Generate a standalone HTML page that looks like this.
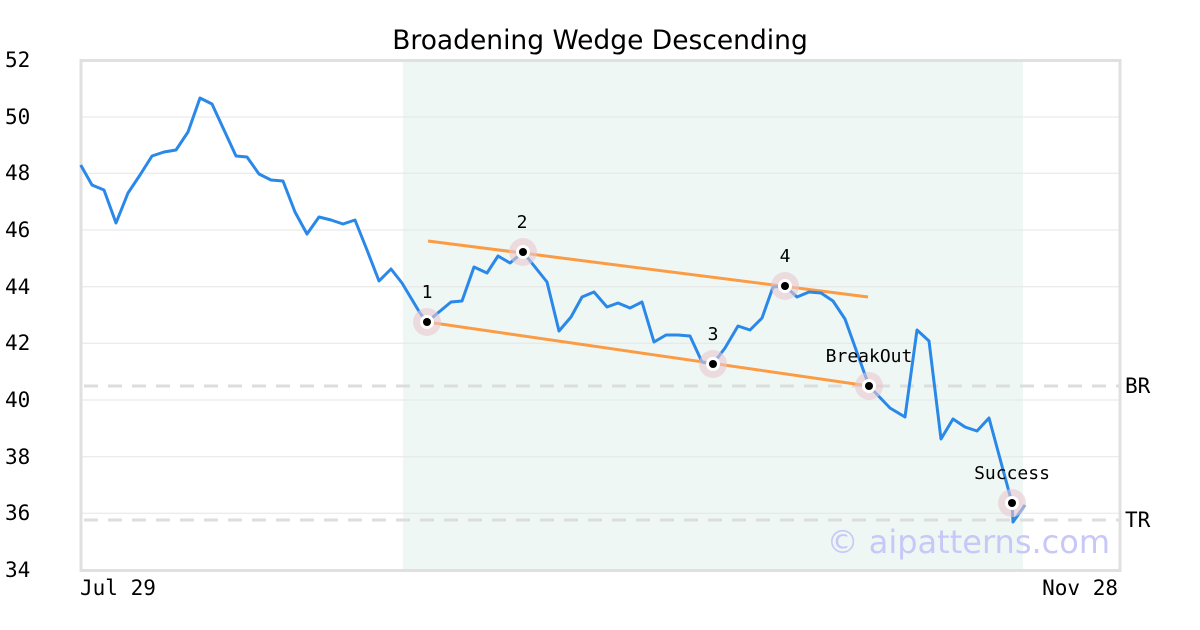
<!DOCTYPE html>
<html><head><meta charset="utf-8"><style>
html,body{margin:0;padding:0;background:#fff;}
svg{display:block;}
.m{font-family:"DejaVu Sans Mono","Liberation Mono",monospace;}
</style></head><body>
<svg width="1200" height="630" viewBox="0 0 1200 630" xmlns="http://www.w3.org/2000/svg">
<rect width="1200" height="630" fill="#fff"/>
<rect x="403" y="61" width="620" height="509" fill="#eff7f4"/>
<g stroke="#e6e6e6" stroke-width="1">
<line x1="81" y1="117" x2="1119" y2="117"/>
<line x1="81" y1="173.3" x2="1119" y2="173.3"/>
<line x1="81" y1="230" x2="1119" y2="230"/>
<line x1="81" y1="286.7" x2="1119" y2="286.7"/>
<line x1="81" y1="343.3" x2="1119" y2="343.3"/>
<line x1="81" y1="400" x2="1119" y2="400"/>
<line x1="81" y1="456.7" x2="1119" y2="456.7"/>
<line x1="81" y1="513.3" x2="1119" y2="513.3"/>
</g>
<g stroke="#dddddd" stroke-width="3" stroke-dasharray="14,10">
<line x1="84" y1="386" x2="1120" y2="386"/>
<line x1="84" y1="520" x2="1120" y2="520"/>
</g>
<rect x="81" y="60.5" width="1039" height="510" fill="none" stroke="#e0e0e0" stroke-width="3"/>
<text x="1110" y="553" text-anchor="end" font-family="DejaVu Sans,Liberation Sans,sans-serif" font-size="32" fill="#c8c8f8">© aipatterns.com</text>
<g stroke="#fb9c44" stroke-width="3">
<line x1="428" y1="241" x2="868" y2="297"/>
<line x1="427" y1="322" x2="869" y2="386"/>
</g>
<polyline fill="none" stroke="#2a88e8" stroke-width="3" stroke-linejoin="round" points="80.7,165 92,185 104,190 116,223 128,193 140,175 152,156 164,152 176,150 188,132 200,98 212,104 224,130 236,156 247,157 259,174 271,180 283,181 295,212 307,234 319,217 331,220 343,224 355,220 367,250 379,281 391,269 402,283 420,313 427,322 451,302 462,301 474,267 487,273 498,256 510,263 523,252 547,282 559,331 571,317 582,297 594,292 607,307 618,303 630,308 642,302 654,342 666,335 678,335 690,336 702,362 713,364 725,348 738,326 750,330 762,318 773,287 785,286 797,297 809,292 821,293 833,301 845,319 869,386 890,408 905,417 917,330 929,341 941,439 953,419 965,427 977,431 989,418 1012,503 1013,522 1025,505"/>
<g>
<circle cx="427" cy="322" r="14" fill="#e8c8d0" opacity="0.6"/><circle cx="427" cy="322" r="7" fill="#fff"/><circle cx="427" cy="322" r="4" fill="#000"/>
<circle cx="523" cy="252" r="14" fill="#e8c8d0" opacity="0.6"/><circle cx="523" cy="252" r="7" fill="#fff"/><circle cx="523" cy="252" r="4" fill="#000"/>
<circle cx="713" cy="364" r="14" fill="#e8c8d0" opacity="0.6"/><circle cx="713" cy="364" r="7" fill="#fff"/><circle cx="713" cy="364" r="4" fill="#000"/>
<circle cx="785" cy="286" r="14" fill="#e8c8d0" opacity="0.6"/><circle cx="785" cy="286" r="7" fill="#fff"/><circle cx="785" cy="286" r="4" fill="#000"/>
<circle cx="869" cy="386" r="14" fill="#e8c8d0" opacity="0.6"/><circle cx="869" cy="386" r="7" fill="#fff"/><circle cx="869" cy="386" r="4" fill="#000"/>
<circle cx="1012" cy="503" r="14" fill="#e8c8d0" opacity="0.6"/><circle cx="1012" cy="503" r="7" fill="#fff"/><circle cx="1012" cy="503" r="4" fill="#000"/>
</g>
<g class="m" font-size="18" fill="#000" text-anchor="middle">
<text x="427" y="298">1</text>
<text x="522" y="228">2</text>
<text x="713" y="340">3</text>
<text x="785" y="262">4</text>
<text x="869" y="362">BreakOut</text>
<text x="1012" y="479">Success</text>
</g>
<g class="m" font-size="21" fill="#000">
<text x="5" y="67">52</text>
<text x="5" y="124">50</text>
<text x="5" y="180">48</text>
<text x="5" y="237">46</text>
<text x="5" y="294">44</text>
<text x="5" y="350">42</text>
<text x="5" y="407">40</text>
<text x="5" y="464">38</text>
<text x="5" y="520">36</text>
<text x="5" y="577">34</text>
<text x="1125" y="393">BR</text>
<text x="1125" y="527">TR</text>
<text x="80" y="595">Jul 29</text>
<text x="1118" y="595" text-anchor="end">Nov 28</text>
</g>
<text x="600" y="49" text-anchor="middle" font-family="DejaVu Sans,Liberation Sans,sans-serif" font-size="26.5" fill="#000">Broadening Wedge Descending</text>
</svg>
</body></html>
